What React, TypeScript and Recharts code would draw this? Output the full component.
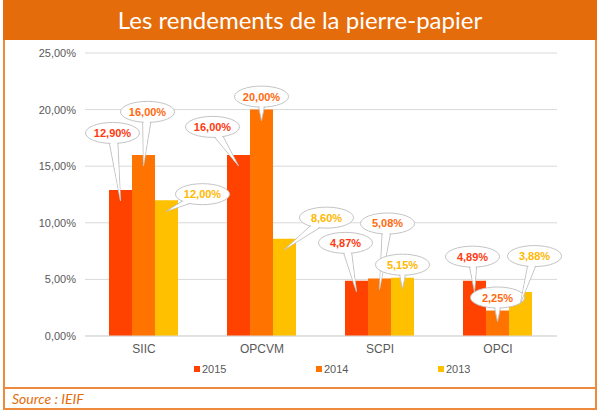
import { BarChart, Bar, XAxis, YAxis, CartesianGrid, LabelList } from "recharts"

const CATEGORIES = ["SIIC", "OPCVM", "SCPI", "OPCI"]
const YEARS = ["2015", "2014", "2013"]
const VALUES_2015 = [12.9, 16.0, 4.87, 4.89]
const VALUES_2014 = [16.0, 20.0, 5.08, 2.25]
const VALUES_2013 = [12.0, 8.6, 5.15, 3.88]
const Y_TICKS = [0, 5, 10, 15, 20, 25]

const COLORS = ["#FF4200", "#FF7300", "#FFC000"]
const LABEL_COLORS = ["#FF3A10", "#FF6A10", "#FFB800"]
const ORANGE = "#E46C0A"
const FRAME = "#EE8A3E"
const GREY_TEXT = "#595959"
const FONT = "Arial, 'Liberation Sans', sans-serif"

// where each bubble sits, relative to the top centre of its bar
const BUBBLE_OFFSETS = [
  [[-8, -57], [-26, -28], [-11, -38], [-2, -24]],
  [[4, -43], [0, -13], [8, -55], [0, -13]],
  [[36, -6], [42, -21], [0, -13], [14, -36]],
]

const KEYS = ["y2015", "y2014", "y2013"]

const data = CATEGORIES.map((name, i) => ({
  name,
  y2015: VALUES_2015[i],
  y2014: VALUES_2014[i],
  y2013: VALUES_2013[i],
}))

const fmt = (v: number) => v.toFixed(2).replace(".", ",") + "%"

const makeCallout = (s: number) => (props: any) => {
  const { x, y, width, value, index } = props
  const cx = Number(x) + Number(width) / 2
  const top = Number(y)
  const tipX = cx
  const tipY = top + 11
  const [dx, dy] = BUBBLE_OFFSETS[s][index]
  const ex = cx + dx
  const ey = top + dy
  const ang = Math.atan2(tipY - ey, tipX - ex)
  const px = -Math.sin(ang)
  const py = Math.cos(ang)
  const w = 5
  const outer = `${ex + px * w},${ey + py * w} ${tipX},${tipY} ${ex - px * w},${ey - py * w}`
  const inner = `${ex + px * (w - 1.2)},${ey + py * (w - 1.2)} ${tipX - Math.cos(ang) * 3},${tipY - Math.sin(ang) * 3} ${ex - px * (w - 1.2)},${ey - py * (w - 1.2)}`
  return (
    <g>
      <polygon points={outer} fill="#fff" stroke="#C4C4C4" strokeWidth={1} />
      <ellipse cx={ex} cy={ey} rx={27} ry={10.5} fill="#fff" stroke="#C4C4C4" strokeWidth={1} />
      <polygon points={inner} fill="#fff" stroke="none" />
      <text
        x={ex}
        y={ey}
        textAnchor="middle"
        dominantBaseline="central"
        fill={LABEL_COLORS[s]}
        style={{ fontFamily: FONT, fontSize: 11, fontWeight: 700 }}
      >
        {fmt(Number(value))}
      </text>
    </g>
  )
}

export default function App() {
  return (
    <div style={{ position: "absolute", left: 0, top: 0, width: 600, height: 413, background: "#fff", overflow: "hidden" }}>
      <div style={{ position: "absolute", left: 3, top: 0, width: 590, height: 406, border: `2px solid ${FRAME}` }} />
      <div
        style={{
          position: "absolute", left: 3, top: 0, width: 594, height: 40, background: ORANGE,
          color: "#fff", fontFamily: "Lato, sans-serif", fontSize: 24, lineHeight: "40px", textAlign: "center",
        }}
      >
        Les rendements de la pierre-papier
      </div>
      <div style={{ position: "absolute", left: 3, top: 387, width: 594, height: 2, background: FRAME }} />
      <div
        style={{
          position: "absolute", left: 12, top: 389, height: 19, lineHeight: "19px",
          fontFamily: "Lato, sans-serif", fontStyle: "italic", fontSize: 14, color: ORANGE,
        }}
      >
        Source : IEIF
      </div>

      {/* bars, axes and grid */}
      <div style={{ position: "absolute", left: 0, top: 0 }}>
        <BarChart width={600} height={413} data={data} margin={{ top: 53, right: 43, left: 0, bottom: 47 }} barGap={0} barCategoryGap={24}>
          <CartesianGrid vertical={false} stroke="#D9D9D9" />
          <XAxis
            dataKey="name"
            height={30}
            axisLine={{ stroke: "#D9D9D9" }}
            tickLine={false}
            tickSize={0}
            tickMargin={8}
            tick={{ fill: GREY_TEXT, fontSize: 12, fontFamily: FONT }}
          />
          <YAxis
            width={85}
            domain={[0, 25]}
            ticks={Y_TICKS}
            axisLine={false}
            tickLine={false}
            tickSize={0}
            tickMargin={9}
            tickFormatter={fmt}
            tick={{ fill: GREY_TEXT, fontSize: 11, fontFamily: FONT }}
          />
          {KEYS.map((k, s) => (
            <Bar key={k} dataKey={k} name={YEARS[s]} fill={COLORS[s]} isAnimationActive={false} />
          ))}
        </BarChart>
      </div>

      {/* same chart, transparent bars, only the callouts so they sit above every bar */}
      <div style={{ position: "absolute", left: 0, top: 0 }}>
        <BarChart width={600} height={413} data={data} margin={{ top: 53, right: 43, left: 85, bottom: 77 }} barGap={0} barCategoryGap={24}>
          <XAxis dataKey="name" hide />
          <YAxis domain={[0, 25]} ticks={Y_TICKS} hide />
          {KEYS.map((k, s) => (
            <Bar key={k} dataKey={k} fill="none" fillOpacity={0} isAnimationActive={false}>
              <LabelList dataKey={k} content={makeCallout(s)} />
            </Bar>
          ))}
        </BarChart>
      </div>

      <div style={{ position: "absolute", left: 194, top: 362, display: "flex" }}>
        {YEARS.map((yr, s) => (
          <div key={yr} style={{ width: 122, display: "flex", alignItems: "center", height: 14 }}>
            <span style={{ width: 6, height: 6, background: COLORS[s], marginRight: 2, display: "inline-block" }} />
            <span style={{ fontFamily: FONT, fontSize: 11, color: GREY_TEXT }}>{yr}</span>
          </div>
        ))}
      </div>
    </div>
  )
}
